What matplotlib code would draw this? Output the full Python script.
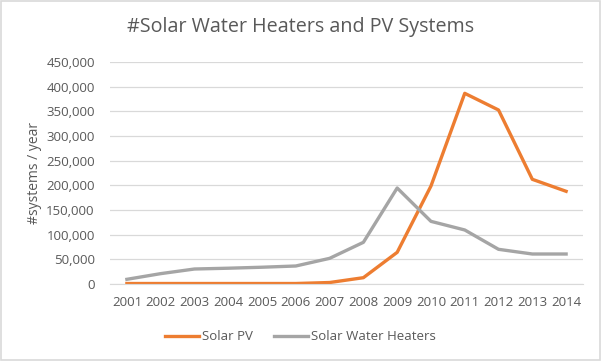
import matplotlib.pyplot as plt
from matplotlib.ticker import FuncFormatter

years = list(range(2001, 2015))
solar_pv = [1000, 1000, 1000, 1000, 1000, 1000, 3000, 12800, 64200,
            198600, 386500, 352700, 212200, 187900]
water_heaters = [9500, 21000, 30400, 32000, 34000, 36500, 52000, 84500,
                 194600, 127000, 109500, 70300, 60800, 60800]

txt = '#595959'
plt.rcParams['font.family'] = ['Open Sans', 'DejaVu Sans']

fig = plt.figure(figsize=(6.01, 3.61), dpi=100)
ax = fig.add_axes([110/601, 1 - 284/361, 473/601, 222/361])

ax.plot(years, solar_pv, color='#ED7D31', lw=2.4, label='Solar PV',
        solid_joinstyle='round')
ax.plot(years, water_heaters, color='#A5A5A5', lw=2.4,
        label='Solar Water Heaters', solid_joinstyle='round')

ax.set_xlim(2000.5, 2014.5)
ax.set_ylim(0, 450000)
ax.set_yticks(range(0, 450001, 50000))
ax.set_xticks(years)
ax.yaxis.set_major_formatter(FuncFormatter(lambda v, p: f'{int(v):,}'))
ax.grid(axis='y', color='#D9D9D9', lw=0.9)
ax.set_axisbelow(True)
for s in ['top', 'right', 'left']:
    ax.spines[s].set_visible(False)
ax.spines['bottom'].set_color('#D9D9D9')
ax.tick_params(length=0, colors=txt, labelsize=9.5)
ax.tick_params(axis='y', pad=11)
ax.tick_params(axis='x', pad=9)

ax.set_ylabel('#systems / year', color=txt, fontsize=10, labelpad=3)

fig.text(0.5, 1 - 27/361, '#Solar Water Heaters and PV Systems',
         fontsize=14.2, color=txt, va='center', ha='center')

fig.legend(loc='center', bbox_to_anchor=(0.5, 1 - 337/361), ncol=2,
           frameon=False, fontsize=9.5, labelcolor=txt, handlelength=2.6,
           columnspacing=1.6, handletextpad=0.2)

fig.patches.append(plt.Rectangle((0.001, 0.002), 0.997, 0.995,
                                 transform=fig.transFigure, fill=False,
                                 edgecolor='#D9D9D9', lw=1.2))

plt.savefig('out.png', dpi=100)
